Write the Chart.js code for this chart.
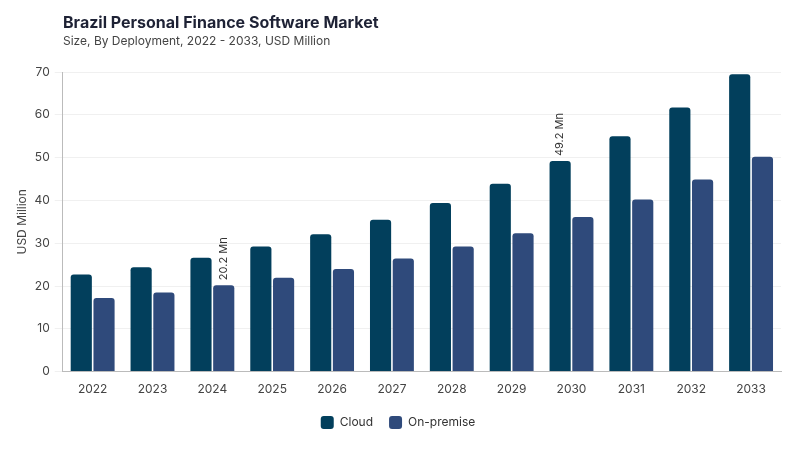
<!DOCTYPE html>
<html>
<head>
<meta charset="utf-8">
<script src="https://cdn.jsdelivr.net/npm/chart.js@4.4.1/dist/chart.umd.min.js"></script>
<style>
body{margin:0;background:#fff;font-family:Inter,"Noto Sans",sans-serif}
#wrap{position:relative;width:800px;height:450px}
#titulo{position:absolute;left:63px;top:12px;font-size:16px;font-weight:700;color:#1e2235}
#sub{position:absolute;left:63px;top:33px;font-size:12px;color:#444}
canvas{position:absolute;left:0;top:0}
</style>
</head>
<body>
<div id="wrap">
<canvas id="grafico" width="800" height="450"></canvas>
<div id="titulo">Brazil Personal Finance Software Market</div>
<div id="sub">Size, By Deployment, 2022 - 2033, USD Million</div>
</div>
<script>

let anos=["2022","2023","2024","2025","2026","2027","2028","2029","2030","2031","2032","2033"]
let cloud=[22.7,24.4,26.6,29.2,32.1,35.5,39.4,43.9,49.2,55.0,61.7,69.5]
let onPremise=[17.2,18.5,20.2,21.9,24.0,26.4,29.2,32.3,36.1,40.2,44.9,50.2]
let rotulos=[{serie:1,idx:2,txt:"20.2 Mn"},{serie:0,idx:8,txt:"49.2 Mn"}]

let pluginRotulos={
id:'rotulos',
afterDatasetsDraw(chart){
let ctx=chart.ctx
ctx.save()
ctx.font='11px Inter, "Noto Sans", sans-serif'
ctx.fillStyle='#333'
ctx.textAlign='left'
ctx.textBaseline='middle'
rotulos.forEach(r=>{
let el=chart.getDatasetMeta(r.serie).data[r.idx]
ctx.save()
ctx.translate(el.x,el.y-5)
ctx.rotate(-Math.PI/2)
ctx.fillText(r.txt,0,0)
ctx.restore()
})
ctx.restore()
}
}

Chart.defaults.font.family='Inter, "Noto Sans", sans-serif'
Chart.defaults.color='#444'

new Chart(document.getElementById("grafico"),{
type:'bar',
data:{
labels:anos,
datasets:[
{label:'Cloud',data:cloud,backgroundColor:'#023f5c',borderRadius:3,borderSkipped:'bottom'},
{label:'On-premise',data:onPremise,backgroundColor:'#2f4a7b',borderRadius:3,borderSkipped:'bottom'}
]
},
options:{
responsive:false,
animation:false,
layout:{padding:{top:72,left:15,right:19,bottom:11}},
datasets:{bar:{categoryPercentage:0.76,barPercentage:0.93}},
plugins:{
legend:{
position:'bottom',
labels:{boxWidth:13,boxHeight:13,useBorderRadius:true,borderRadius:3,padding:16,font:{size:12},color:'#333'}
},
tooltip:{enabled:false}
},
scales:{
x:{
grid:{display:false},
border:{color:'#bbb'},
ticks:{font:{size:12},color:'#444',padding:3}
},
y:{
min:0,max:70,
ticks:{stepSize:10,font:{size:12},color:'#444',padding:5},
grid:{color:'#f0f0f0'},
border:{color:'#bbb'},
title:{display:true,text:'USD Million',font:{size:12},color:'#444',padding:{top:0,bottom:0}}
}
}
},
plugins:[pluginRotulos]
})

</script>
</body>
</html>
